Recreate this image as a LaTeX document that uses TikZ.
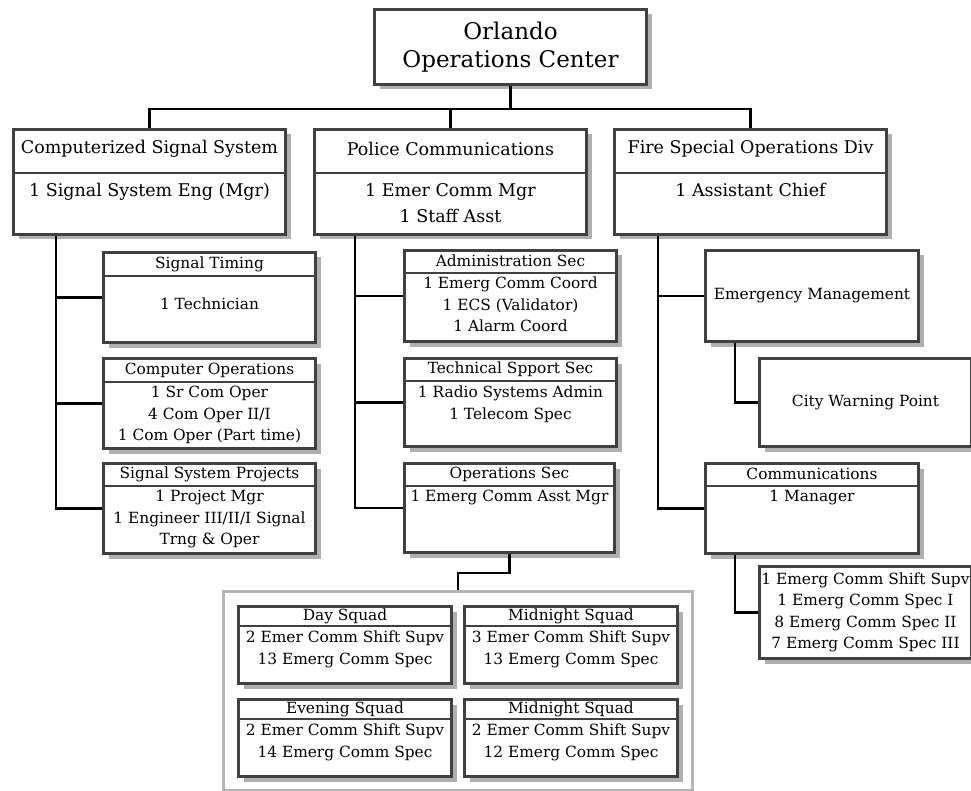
\documentclass[tikz,border=0pt]{standalone}
\usepackage{fontspec}
\setmainfont{DejaVu Serif}
\usetikzlibrary{calc,shadows}
\definecolor{boxgray}{RGB}{64,64,64}
\definecolor{shadegray}{RGB}{175,175,175}
\definecolor{framegray}{RGB}{180,180,180}
\tikzset{
  unit/.style={draw=boxgray, line width=3pt, fill=white, inner sep=0pt, anchor=north west,
    drop shadow={shadow xshift=5pt, shadow yshift=-5pt, fill=shadegray, opacity=1}},
  split/.style={draw=boxgray, line width=2.5pt},
  link/.style={draw=black, line width=2.3pt},
  titletext/.style={align=center, inner sep=0pt, font=\fontsize{23}{28}\selectfont},
  bigtext/.style={align=center, inner sep=0pt, font=\fontsize{17.5}{26}\selectfont},
  smalltext/.style={align=center, inner sep=0pt, font=\fontsize{15.4}{21.5}\selectfont},
}
\begin{document}
\begin{tikzpicture}[x=1pt,y=-1pt]
   \useasboundingbox (0,0) rectangle (971,791);

   % top
   \node[unit, minimum width=272pt, minimum height=75pt] (ooc) at (373,8) {};
   \node[titletext] (ooc-t) at (ooc.center) {Orlando\\Operations Center};

   % divisions
   \node[unit, minimum width=272pt, minimum height=105pt] (css) at (12,128) {};
   \draw[split] ($(css.north west)+(0,45)$) -- ($(css.north east)+(0,45)$);
   \node[bigtext] (css-h) at ($(css.north)+(0,21)$) {Computerized Signal System};
   \node[bigtext, anchor=north] (css-b) at ($(css.north)+(0,55)$) {1 Signal System Eng (Mgr)};

   \node[unit, minimum width=272pt, minimum height=105pt] (pc) at (313,128) {};
   \draw[split] ($(pc.north west)+(0,45)$) -- ($(pc.north east)+(0,45)$);
   \node[bigtext] (pc-h) at ($(pc.north)+(0,21)$) {Police Communications};
   \node[bigtext, anchor=north] (pc-b) at ($(pc.north)+(0,55)$) {1 Emer Comm Mgr\\1 Staff Asst};

   \node[unit, minimum width=272pt, minimum height=105pt] (fso) at (613,128) {};
   \draw[split] ($(fso.north west)+(0,45)$) -- ($(fso.north east)+(0,45)$);
   \node[bigtext] (fso-h) at ($(fso.north)+(0,21)$) {Fire Special Operations Div};
   \node[bigtext, anchor=north] (fso-b) at ($(fso.north)+(0,55)$) {1 Assistant Chief};

   % signal system
   \node[unit, minimum width=212pt, minimum height=90pt] (st) at (102,251) {};
   \draw[split] ($(st.north west)+(0,25)$) -- ($(st.north east)+(0,25)$);
   \node[smalltext] (st-h) at ($(st.north)+(0,13)$) {Signal Timing};
   \node[smalltext] (st-b) at ($(st.north)+(0,53)$) {1 Technician};

   \node[unit, minimum width=212pt, minimum height=90pt] (co) at (102,357) {};
   \draw[split] ($(co.north west)+(0,25)$) -- ($(co.north east)+(0,25)$);
   \node[smalltext] (co-h) at ($(co.north)+(0,13)$) {Computer Operations};
   \node[smalltext, anchor=north] (co-b) at ($(co.north)+(0,29)$) {1 Sr Com Oper\\4 Com Oper II/I\\1 Com Oper (Part time)};

   \node[unit, minimum width=212pt, minimum height=90pt] (ssp) at (102,462) {};
   \draw[split] ($(ssp.north west)+(0,24)$) -- ($(ssp.north east)+(0,24)$);
   \node[smalltext] (ssp-h) at ($(ssp.north)+(0,12)$) {Signal System Projects};
   \node[smalltext, anchor=north] (ssp-b) at ($(ssp.north)+(0,28)$) {1 Project Mgr\\1 Engineer III/II/I Signal\\Trng \& Oper};

   % police
   \node[unit, minimum width=212pt, minimum height=91pt] (adm) at (403,249) {};
   \draw[split] ($(adm.north west)+(0,24)$) -- ($(adm.north east)+(0,24)$);
   \node[smalltext] (adm-h) at ($(adm.north)+(0,12)$) {Administration Sec};
   \node[smalltext, anchor=north] (adm-b) at ($(adm.north)+(0,28)$) {1 Emerg Comm Coord\\1 ECS (Validator)\\1 Alarm Coord};

   \node[unit, minimum width=212pt, minimum height=88pt] (tss) at (403,357) {};
   \draw[split] ($(tss.north west)+(0,24)$) -- ($(tss.north east)+(0,24)$);
   \node[smalltext] (tss-h) at ($(tss.north)+(0,12)$) {Technical Spport Sec};
   \node[smalltext, anchor=north] (tss-b) at ($(tss.north)+(0,29)$) {1 Radio Systems Admin\\1 Telecom Spec};

   \node[unit, minimum width=210pt, minimum height=89pt] (ops) at (403,462) {};
   \draw[split] ($(ops.north west)+(0,24)$) -- ($(ops.north east)+(0,24)$);
   \node[smalltext] (ops-h) at ($(ops.north)+(0,12)$) {Operations Sec};
   \node[smalltext, anchor=north] (ops-b) at ($(ops.north)+(0,28)$) {1 Emerg Comm Asst Mgr};

   % squads
   \node[draw=framegray, line width=2.5pt, fill=white, inner sep=0pt, anchor=north west,
     minimum width=469pt, minimum height=199pt] (squads) at (222,590) {};

   \node[unit, minimum width=213pt, minimum height=77pt] (day) at (237,605) {};
   \draw[split] ($(day.north west)+(0,21)$) -- ($(day.north east)+(0,21)$);
   \node[smalltext] (day-h) at ($(day.north)+(0,11)$) {Day Squad};
   \node[smalltext, anchor=north] (day-b) at ($(day.north)+(0,26)$) {2 Emer Comm Shift Supv\\13 Emerg Comm Spec};

   \node[unit, minimum width=213pt, minimum height=77pt] (mida) at (463,605) {};
   \draw[split] ($(mida.north west)+(0,21)$) -- ($(mida.north east)+(0,21)$);
   \node[smalltext] (mida-h) at ($(mida.north)+(0,11)$) {Midnight Squad};
   \node[smalltext, anchor=north] (mida-b) at ($(mida.north)+(0,26)$) {3 Emer Comm Shift Supv\\13 Emerg Comm Spec};

   \node[unit, minimum width=213pt, minimum height=77pt] (eve) at (237,698) {};
   \draw[split] ($(eve.north west)+(0,21)$) -- ($(eve.north east)+(0,21)$);
   \node[smalltext] (eve-h) at ($(eve.north)+(0,11)$) {Evening Squad};
   \node[smalltext, anchor=north] (eve-b) at ($(eve.north)+(0,26)$) {2 Emer Comm Shift Supv\\14 Emerg Comm Spec};

   \node[unit, minimum width=213pt, minimum height=77pt] (midb) at (463,698) {};
   \draw[split] ($(midb.north west)+(0,21)$) -- ($(midb.north east)+(0,21)$);
   \node[smalltext] (midb-h) at ($(midb.north)+(0,11)$) {Midnight Squad};
   \node[smalltext, anchor=north] (midb-b) at ($(midb.north)+(0,26)$) {2 Emer Comm Shift Supv\\12 Emerg Comm Spec};

   % fire
   \node[unit, minimum width=213pt, minimum height=91pt] (em) at (704,249) {};
   \node[smalltext] (em-t) at (em.center) {Emergency Management};

   \node[unit, minimum width=212pt, minimum height=88pt] (cwp) at (758,357) {};
   \node[smalltext] (cwp-t) at (cwp.center) {City Warning Point};

   \node[unit, minimum width=213pt, minimum height=90pt] (com) at (704,462) {};
   \draw[split] ($(com.north west)+(0,24)$) -- ($(com.north east)+(0,24)$);
   \node[smalltext] (com-h) at ($(com.north)+(0,12)$) {Communications};
   \node[smalltext, anchor=north] (com-b) at ($(com.north)+(0,28)$) {1 Manager};

   \node[unit, minimum width=212pt, minimum height=92pt] (staff) at (758,565) {};
   \node[smalltext] (staff-t) at (staff.center) {1 Emerg Comm Shift Supv\\1 Emerg Comm Spec I\\8 Emerg Comm Spec II\\7 Emerg Comm Spec III};

   % links
   \draw[link] (ooc.south) -- ++(0,23) -| (css.north);
   \draw[link] (ooc.south) -- ++(0,23) -| (pc.north);
   \draw[link] (ooc.south) -- ++(0,23) -| (fso.north);

   \coordinate (css-t) at ($(css.south west)+(44,0)$);
   \draw[link] (css-t) |- (st.west);
   \draw[link] (css-t) |- (co.west);
   \draw[link] (css-t) |- (ssp.west);

   \coordinate (pc-t) at ($(pc.south west)+(42,0)$);
   \draw[link] (pc-t) |- (adm.west);
   \draw[link] (pc-t) |- (tss.west);
   \draw[link] (pc-t) |- (ops.west);
   \draw[link] (ops.south) -- ++(0,19) -| (squads.north);

   \coordinate (fso-t) at ($(fso.south west)+(45,0)$);
   \draw[link] (fso-t) |- (em.west);
   \draw[link] (fso-t) |- (com.west);

   \coordinate (em-t) at ($(em.south west)+(31,0)$);
   \draw[link] (em-t) |- (cwp.west);
   \coordinate (com-t) at ($(com.south west)+(31,0)$);
   \draw[link] (com-t) |- (staff.west);
\end{tikzpicture}
\end{document}
